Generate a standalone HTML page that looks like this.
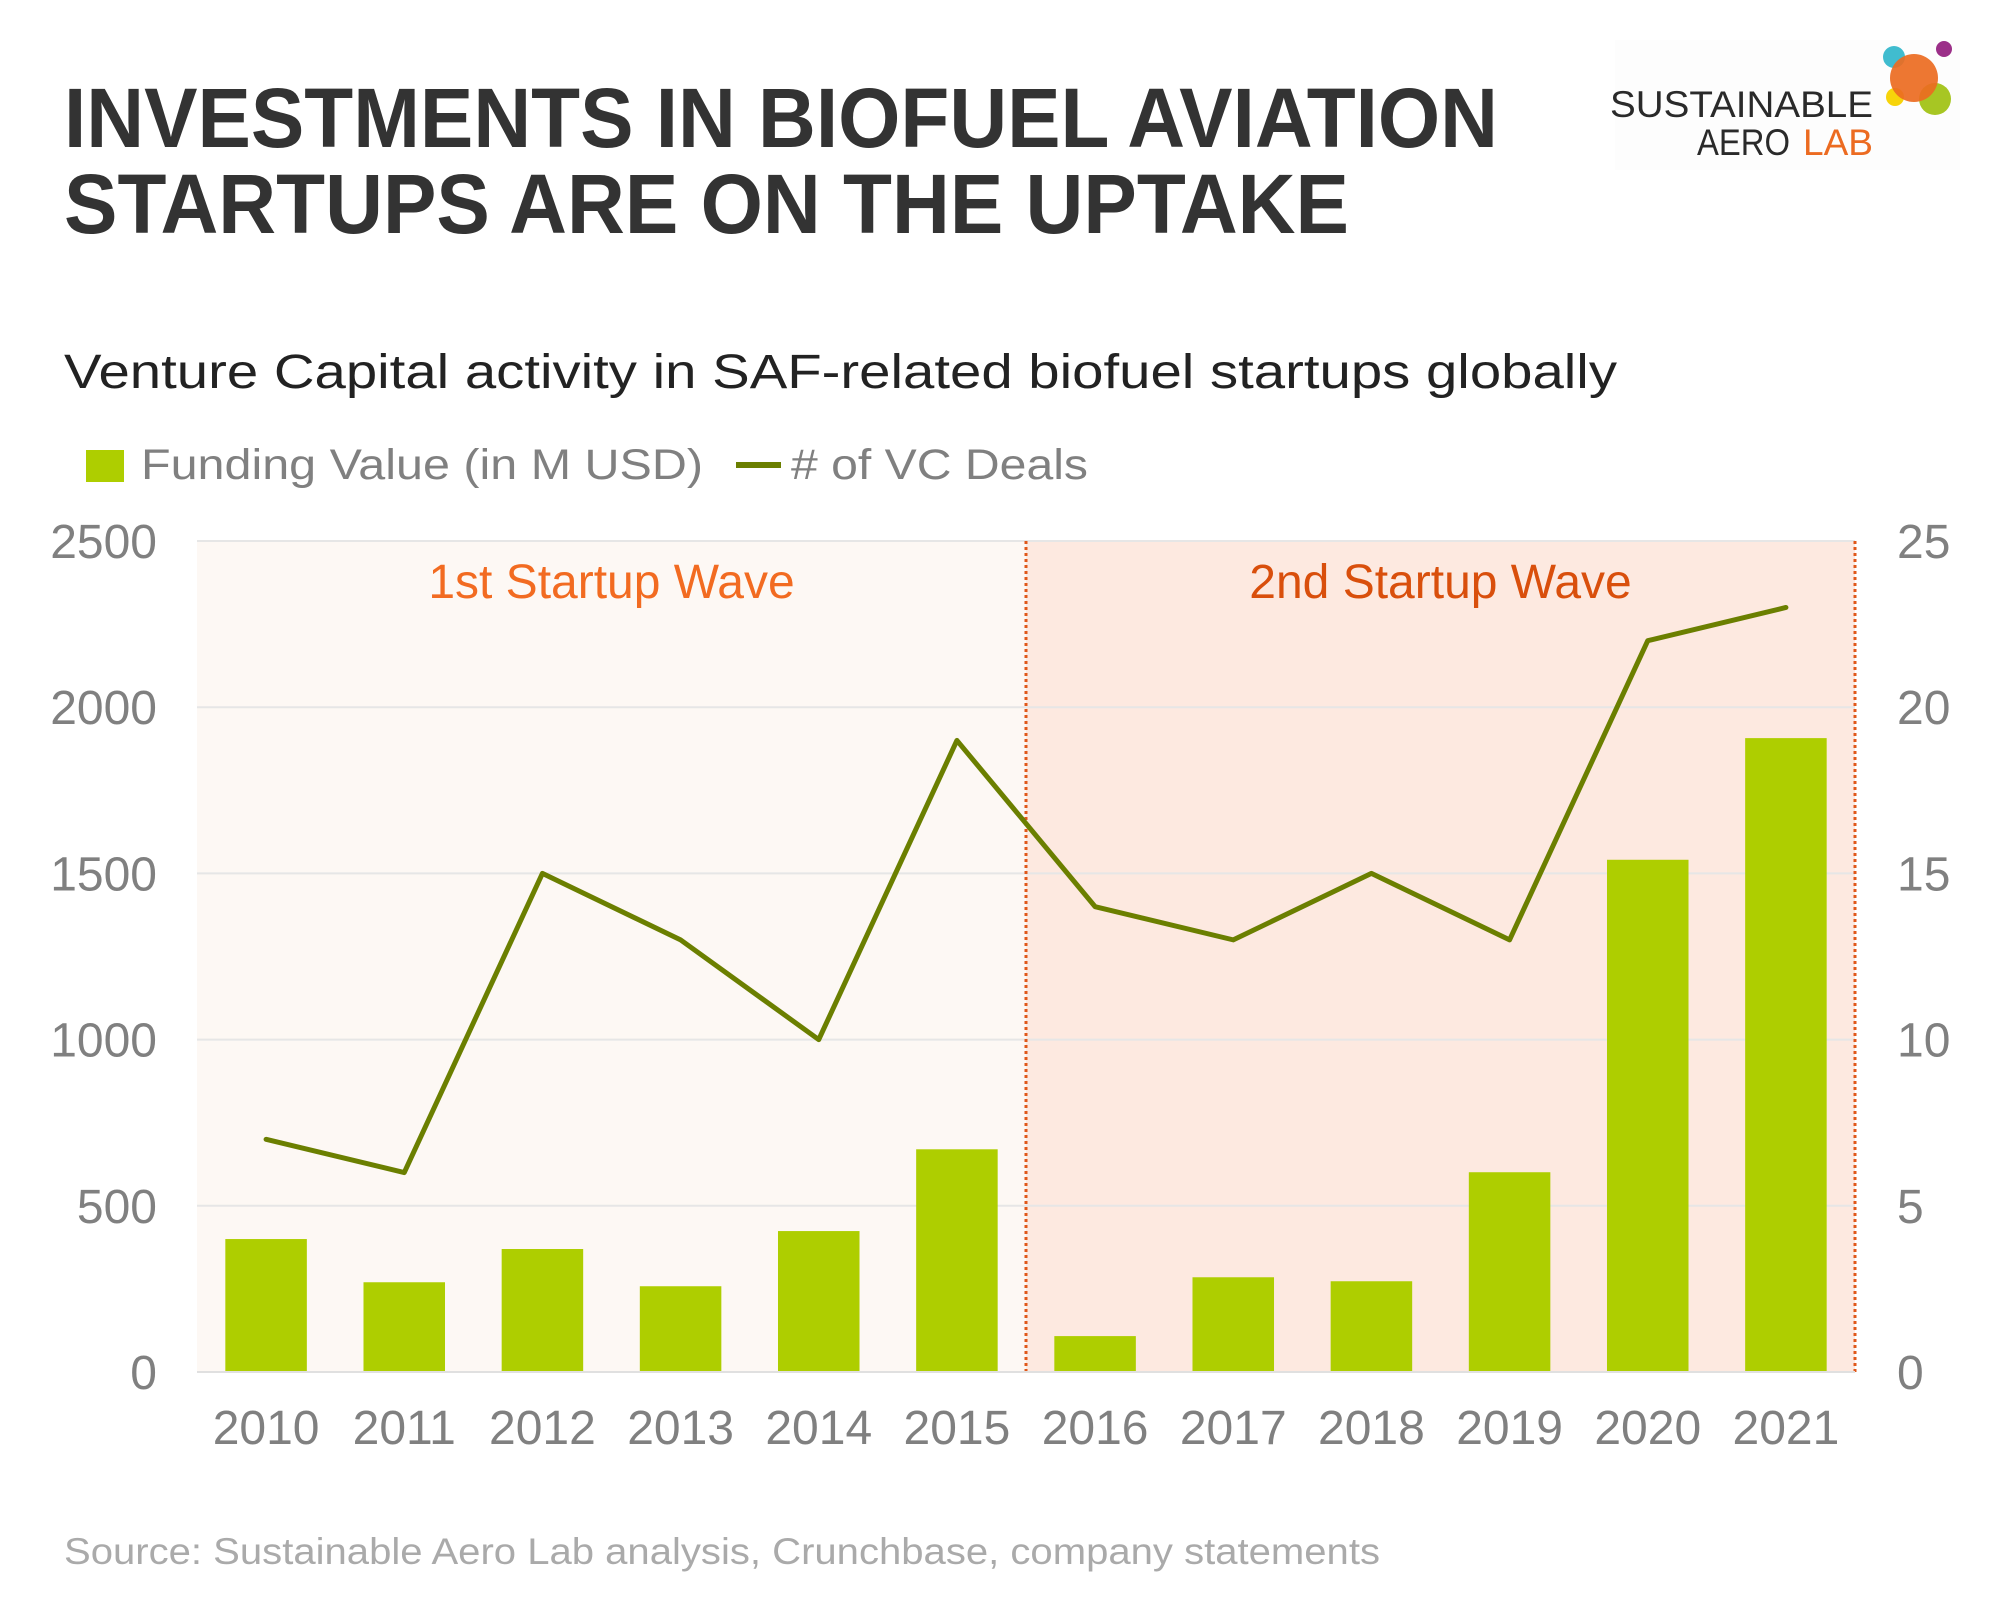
<!DOCTYPE html>
<html><head><meta charset="utf-8"><style>
html,body{margin:0;padding:0;background:#fff;}
svg{display:block;font-family:"Liberation Sans",Arial,sans-serif;}
</style></head><body>
<svg id="chart" width="2000" height="1600" viewBox="0 0 2000 1600">
<text x="64" y="147" font-size="84" font-weight="bold" fill="#333" textLength="1434" lengthAdjust="spacingAndGlyphs">INVESTMENTS IN BIOFUEL AVIATION</text>
<text x="64" y="233" font-size="84" font-weight="bold" fill="#333" textLength="1285" lengthAdjust="spacingAndGlyphs">STARTUPS ARE ON THE UPTAKE</text>
<g>
<rect x="1615" y="40" width="345" height="130" fill="#fdfdfd"/>
<text x="1610" y="117" font-size="37" fill="#2a2a2a" textLength="263" lengthAdjust="spacingAndGlyphs">SUSTAINABLE</text>
<text x="1697" y="155" font-size="37" fill="#2a2a2a" textLength="93" lengthAdjust="spacingAndGlyphs">AERO</text>
<text x="1803" y="155" font-size="37" fill="#ec6b21" textLength="70" lengthAdjust="spacingAndGlyphs">LAB</text>
<circle cx="1894" cy="57" r="11" fill="#36b8cc" opacity="0.95"/>
<circle cx="1944" cy="49" r="8" fill="#9b2f88"/>
<circle cx="1895" cy="97" r="9" fill="#f7d40a"/>
<circle cx="1935" cy="99" r="16" fill="#a7c623"/>
<circle cx="1914" cy="78" r="24" fill="#ec6b21" opacity="0.92"/>
</g>
<text x="64" y="388" font-size="48" fill="#222" textLength="1553" lengthAdjust="spacingAndGlyphs">Venture Capital activity in SAF-related biofuel startups globally</text>
<g>
<rect x="86" y="450" width="38" height="32" fill="#aece00"/>
<text x="141" y="479" font-size="43" fill="#808080" textLength="562" lengthAdjust="spacingAndGlyphs">Funding Value (in M USD)</text>
<line x1="736" y1="465" x2="781" y2="465" stroke="#6b7f00" stroke-width="6"/>
<text x="791" y="479" font-size="43" fill="#808080" textLength="297" lengthAdjust="spacingAndGlyphs"># of VC Deals</text>
</g>
<g id="plot"></g>
<text x="64" y="1564" font-size="37" fill="#aaa" textLength="1316" lengthAdjust="spacingAndGlyphs">Source: Sustainable Aero Lab analysis, Crunchbase, company statements</text>
</svg>
<script>
const years = ["2010","2011","2012","2013","2014","2015","2016","2017","2018","2019","2020","2021"];
const funding = [400,270,370,258,424,670,108,285,273,601,1541,1907];
const deals = [7,6,15,13,10,19,14,13,15,13,22,23];
const leftTicks = [0,500,1000,1500,2000,2500];
const rightTicks = [0,5,10,15,20,25];
const waveLabels = ["1st Startup Wave","2nd Startup Wave"];
const waveSplit = 6;

const NS = "http://www.w3.org/2000/svg";
const g = document.getElementById("plot");
const L = 197, R = 1855, T = 541, B = 1372;
const band = (R - L) / years.length;
const xc = i => L + band * (i + 0.5);
const yl = v => B - (v / 2500) * (B - T);
const yr = v => B - (v / 25) * (B - T);
function mk(tag, attrs, parent) {
  const e = document.createElementNS(NS, tag);
  for (const k in attrs) e.setAttribute(k, attrs[k]);
  (parent || g).appendChild(e);
  return e;
}
const splitX = L + band * waveSplit;
let e;
e = mk("rect", {x: L, y: T, width: splitX - L, height: B - T, fill: "#fdf8f4"});


e = mk("rect", {x: splitX, y: T, width: R - splitX, height: B - T, fill: "#fde9e0"});


leftTicks.forEach((t, i) => {
  e = mk("line", {x1: L, x2: R, y1: yl(t), y2: yl(t), stroke: "#e6e6e6", "stroke-width": 2});
  
  
  e = mk("text", {x: 157, y: yl(t) + 17, "font-size": 48, fill: "#808080", "text-anchor": "end"});
  e.textContent = t;
  
  
});
rightTicks.forEach(t => {
  e = mk("text", {x: 1897, y: yr(t) + 17, "font-size": 48, fill: "#808080", "text-anchor": "start"});
  e.textContent = t;
  
  
});
[splitX, R].forEach(x => {
  e = mk("line", {x1: x, x2: x, y1: T, y2: B, stroke: "#e0581a", "stroke-width": 3, "stroke-dasharray": "3 3"});
  
  
});
e = mk("text", {x: (L + splitX) / 2, y: 598, "font-size": 48, fill: "#f26b21", "text-anchor": "middle"});
e.textContent = waveLabels[0];


e = mk("text", {x: (splitX + R) / 2, y: 598, "font-size": 48, fill: "#d94f0c", "text-anchor": "middle"});
e.textContent = waveLabels[1];


const bw = band * 0.59;
funding.forEach((v, i) => {
  e = mk("rect", {x: xc(i) - bw / 2, y: yl(v), width: bw, height: B - yl(v), fill: "#aece00"});
  
  
});
years.forEach((y, i) => {
  e = mk("text", {x: xc(i), y: 1444, "font-size": 48, fill: "#808080", "text-anchor": "middle"});
  e.textContent = y;
  
  
});
e = mk("line", {x1: L, x2: R, y1: B, y2: B, stroke: "#e0e0e0", "stroke-width": 2});


e = mk("polyline", {points: deals.map((d, i) => xc(i) + "," + yr(d)).join(" "), fill: "none", stroke: "#6b7f00", "stroke-width": 5, "stroke-linejoin": "round", "stroke-linecap": "round"});


</script>
</body></html>
